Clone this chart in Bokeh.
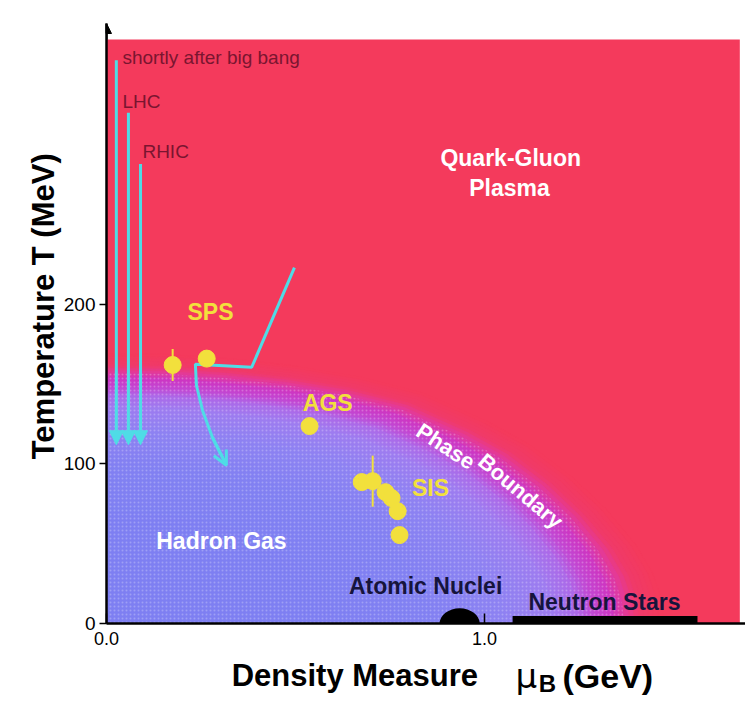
import numpy as np
from bokeh.plotting import figure
from bokeh.layouts import column
from bokeh.models import (Range1d, FixedTicker, Arrow, NormalHead, OpenHead,
                          ColumnDataSource, PrintfTickFormatter)
from bokeh.embed import file_html
from bokeh.resources import INLINE
from bokeh.core.properties import value

# ---------------- data ----------------
# phase boundary centre line: mu_B (GeV), T (MeV)
boundary_mu = [0.0, 0.15, 0.30, 0.45, 0.60, 0.75, 0.90, 1.00, 1.10, 1.18, 1.25, 1.29, 1.31, 1.317]
boundary_T = [151, 150.5, 148, 144, 138, 129, 113, 100, 82, 64, 44, 28, 14, 0]

# experiments
sps_mu = [0.175, 0.265]
sps_T = [162, 166]
sps_err = [10, 0]
ags_mu = [0.537]
ags_T = [123.7]
sis_mu = [0.675, 0.704, 0.738, 0.754, 0.770, 0.775]
sis_T = [88.6, 89.2, 82.3, 78.6, 70.4, 55.4]
sis_err = [0, 16, 0, 0, 0, 0]

# early-universe / collider trajectories (vertical arrows)
early_labels = ["shortly after big bang", "LHC", "RHIC"]
early_mu = [0.026, 0.058, 0.090]
early_T_start = [353, 320, 288]
early_T_end = [112, 112, 112]
early_label_mu = [0.042, 0.042, 0.095]
early_label_T = [355, 327, 296]

# SPS trajectory
sps_path_mu = [0.497, 0.384, 0.235, 0.238, 0.254, 0.280, 0.317]
sps_path_T = [223, 160.6, 162.5, 149, 133.5, 116.7, 99.2]

# nuclear matter / neutron stars
nuclei_mu = [0.934]
neutron_mu = [1.074, 1.563]
neutron_T = [0, 4.7]

x_ticks = [0, 1]
y_ticks = [0, 100, 200]

# ---------------- colours / fonts ----------------
RED = "#f43a5c"
CYAN = "#4fdce6"
YELLOW = "#f2e03c"
NAVY = "#16143c"
FONT = "Liberation Sans"

stops = [
    (1.12, (244, 58, 92)),
    (1.075, (240, 58, 105)),
    (1.05, (228, 58, 150)),
    (1.02, (205, 55, 195)),
    (0.985, (195, 70, 210)),
    (0.95, (172, 105, 232)),
    (0.90, (158, 124, 240)),
    (0.80, (142, 130, 242)),
    (0.65, (130, 129, 242)),
    (0.40, (126, 127, 242)),
]


def layer_colour(s):
    ss = [a for a, _ in stops][::-1]
    cols = [c for _, c in stops][::-1]
    rgb = [int(round(np.interp(s, ss, [c[i] for c in cols]))) for i in range(3)]
    return "#%02x%02x%02x" % tuple(rgb)


XR = Range1d(0, 1.690)

p = figure(frame_width=639, frame_height=600, output_backend="svg", toolbar_location=None,
           x_range=XR, y_range=Range1d(0, 376),
           min_border_left=106, min_border_right=0, min_border_top=23, min_border_bottom=30,
           background_fill_color="white", border_fill_color="white")
p.grid.visible = False
p.outline_line_color = None

# background QGP
p.quad(left=[0], right=[1.675], bottom=[0], top=[366], fill_color=RED, line_color=None)

# phase boundary gradient (scaled copies of the boundary line)
bx = np.array(boundary_mu)
by = np.array(boundary_T)
xs, ys, cs = [], [], []
for s in np.arange(1.12, 0.395, -0.01):
    xs.append([0.0] + list(bx * s) + [0.0])
    ys.append([0.0] + list(by * s) + [0.0])
    cs.append(layer_colour(s))
p.patches(xs=xs, ys=ys, fill_color=cs, line_color=cs, line_width=0.5)

# dithered texture of the hadronic side
p.patch(x=[0.0] + list(bx * 1.04) + [0.0], y=[0.0] + list(by * 1.04) + [0.0],
        fill_alpha=0, line_color=None, hatch_pattern="dot", hatch_color="white",
        hatch_alpha=0.25, hatch_scale=4, hatch_weight=1)

# nuclear matter and neutron stars
p.ellipse(x=nuclei_mu, y=[0], width=0.106, height=19, fill_color="black", line_color=None)
p.quad(left=[neutron_mu[0]], right=[neutron_mu[1]], bottom=[neutron_T[0]], top=[neutron_T[1]],
       fill_color="black", line_color=None)

# vertical arrows
src_early = ColumnDataSource(dict(x0=early_mu, y0=early_T_start, x1=early_mu, y1=early_T_end))
p.add_layout(Arrow(source=src_early, x_start="x0", y_start="y0", x_end="x1", y_end="y1",
                   line_color=CYAN, line_width=3,
                   end=NormalHead(size=14, fill_color=CYAN, line_color=CYAN)))
p.text(x=early_label_mu, y=early_label_T, text=early_labels, text_color="#7a1530",
       text_font=value(FONT), text_font_size="19px", text_baseline="middle", text_align="left")

# SPS trajectory
p.line(sps_path_mu, sps_path_T, line_color=CYAN, line_width=3)
p.add_layout(Arrow(x_start=sps_path_mu[-2], y_start=sps_path_T[-2], x_end=sps_path_mu[-1],
                   y_end=sps_path_T[-1], line_color=CYAN, line_width=3,
                   end=OpenHead(size=14, line_color=CYAN, line_width=3)))

# experiment points
all_mu = sps_mu + ags_mu + sis_mu
all_T = sps_T + ags_T + sis_T
all_err = sps_err + [0] + sis_err
e_mu = [m for m, e in zip(all_mu, all_err) if e > 0]
e_lo = [t - e for t, e in zip(all_T, all_err) if e > 0]
e_hi = [t + e for t, e in zip(all_T, all_err) if e > 0]
p.segment(x0=e_mu, y0=e_lo, x1=e_mu, y1=e_hi, line_color=YELLOW, line_width=2)
p.scatter(all_mu, all_T, size=17, fill_color=YELLOW, line_color=YELLOW)


# region / experiment labels
def txt(fig, x, y, t, color, size="23px", angle=0, align="center", baseline="middle",
        style="bold", font=FONT):
    fig.text(x=[x], y=[y], text=[t], text_color=color, text_font=value(font),
             text_font_style=style, text_font_size=size, text_align=align,
             text_baseline=baseline, angle=angle, angle_units="deg")


txt(p, 0.275, 195, "SPS", YELLOW)
txt(p, 0.585, 138, "AGS", YELLOW)
txt(p, 0.857, 85, "SIS", YELLOW)
txt(p, 1.069, 292, "Quark-Gluon", "white")
txt(p, 1.066, 272.7, "Plasma", "white")
txt(p, 0.304, 51.7, "Hadron Gas", "white")
txt(p, 0.844, 23.5, "Atomic Nuclei", NAVY)
txt(p, 1.317, 13.5, "Neutron Stars", NAVY)
txt(p, 0.897, 111, "Phase", "white", "22px", -33)
txt(p, 1.095, 83, "Boundary", "white", "22px", -40)

# axes
p.xaxis.ticker = FixedTicker(ticks=x_ticks)
p.xaxis.formatter = PrintfTickFormatter(format="%.1f")
p.yaxis.ticker = FixedTicker(ticks=y_ticks)
p.axis.minor_tick_line_color = None
p.axis.axis_line_color = "black"
p.axis.axis_line_width = 2.5
p.axis.major_tick_line_color = "black"
p.axis.major_tick_line_width = 1.5
p.axis.major_label_text_font = FONT
p.axis.major_label_text_color = "black"
p.xaxis.major_tick_in = 10
p.xaxis.major_tick_out = 0
p.xaxis.major_label_text_font_size = "18px"
p.xaxis.major_label_standoff = 8
p.yaxis.major_tick_in = 0
p.yaxis.major_tick_out = 7
p.yaxis.major_label_text_font_size = "19px"
p.yaxis.major_label_standoff = 4
# leading no-break spaces shift the centred title up, as in the reference
p.yaxis.axis_label = "\u00a0" * 4 + "Temperature T (MeV)"
p.yaxis.axis_label_text_font = FONT
p.yaxis.axis_label_text_font_style = "bold"
p.yaxis.axis_label_text_font_size = "31px"
p.yaxis.axis_label_text_color = "black"
p.yaxis.axis_label_standoff = 0

# arrow head on the T axis
p.add_layout(Arrow(x_start=0, y_start=366, x_end=0, y_end=376, line_color="black", line_width=2,
                   end=NormalHead(size=10, fill_color="black", line_color="black")))

# x-axis title strip (with subscript B)
q = figure(frame_width=639, frame_height=45, output_backend="svg", toolbar_location=None,
           x_range=XR, y_range=Range1d(0, 45), x_axis_location=None, y_axis_location=None,
           min_border_left=106, min_border_right=0, min_border_top=0, min_border_bottom=0,
           background_fill_color="white", border_fill_color="white")
q.grid.visible = False
q.outline_line_color = None
txt(q, 0.331, 23, "Density Measure", "black", "31px", align="left", baseline="alphabetic")
txt(q, 1.082, 23, "\u03bc", "black", "34px", align="left", baseline="alphabetic",
    style="normal", font="DejaVu Sans")
txt(q, 1.143, 15, "B", "black", "24px", align="left", baseline="alphabetic")
txt(q, 1.206, 23, "(GeV)", "black", "34px", align="left", baseline="alphabetic")

layout = column(p, q, spacing=0)
open("out.html", "w").write(file_html(layout, INLINE))
